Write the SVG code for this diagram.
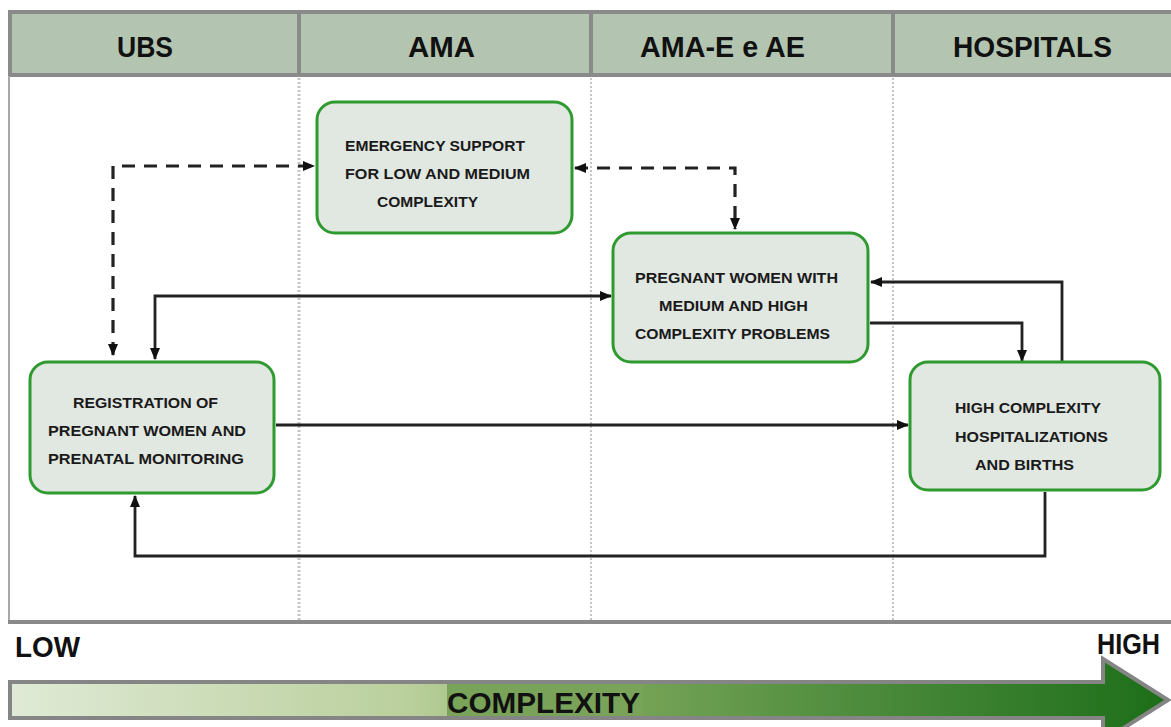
<svg xmlns="http://www.w3.org/2000/svg" width="1171" height="727" viewBox="0 0 1171 727">
<style>
.hdr{font-family:"Liberation Sans",Arial,sans-serif;font-weight:bold;font-size:29px;fill:#111}
.nt{font-family:"Liberation Sans",Arial,sans-serif;font-weight:bold;font-size:15.5px;fill:#1a1a1a}
.box{fill:#e1e7e1;stroke:#2f9a2f;stroke-width:3}
.ln{fill:none;stroke:#222;stroke-width:2.8}
.dl{fill:none;stroke:#222;stroke-width:3.2;stroke-dasharray:13 9}
.lab{font-family:"Liberation Sans",Arial,sans-serif;font-weight:bold;font-size:29px;fill:#111}
</style>
<defs>
<marker id="ah" markerUnits="userSpaceOnUse" markerWidth="12" markerHeight="10" refX="11" refY="5" orient="auto-start-reverse" viewBox="0 0 12 10">
<path d="M0,0 L12,5 L0,10 z" fill="#111"/>
</marker>
<linearGradient id="cg" x1="0" y1="0" x2="1" y2="0">
<stop offset="0" stop-color="#e0ead6"/>
<stop offset="0.35" stop-color="#b9cf9b"/>
<stop offset="0.5" stop-color="#7ea85c"/>
<stop offset="0.75" stop-color="#4a8a3a"/>
<stop offset="1" stop-color="#1d6e18"/>
</linearGradient>
</defs>
<rect x="0" y="0" width="1171" height="727" fill="#fff"/>
<g id="table">
<rect x="10" y="12" width="1165" height="63" fill="#b3c5b1" stroke="#8a8a8a" stroke-width="4"/>
<line x1="299" y1="12" x2="299" y2="75" stroke="#8a8a8a" stroke-width="4"/>
<line x1="591" y1="12" x2="591" y2="75" stroke="#8a8a8a" stroke-width="4"/>
<line x1="893" y1="12" x2="893" y2="75" stroke="#8a8a8a" stroke-width="4"/>
<line x1="9" y1="76" x2="9" y2="622" stroke="#a8a8a8" stroke-width="2"/>
<line x1="299" y1="78" x2="299" y2="620" stroke="#c4c4c4" stroke-width="3" stroke-dasharray="2 2"/>
<line x1="591" y1="78" x2="591" y2="620" stroke="#c4c4c4" stroke-width="2" stroke-dasharray="2 2"/>
<line x1="893" y1="78" x2="893" y2="620" stroke="#c4c4c4" stroke-width="2" stroke-dasharray="2 2"/>
<line x1="8" y1="622" x2="1171" y2="622" stroke="#8a8a8a" stroke-width="4"/>
<text class="hdr" x="117" y="57" textLength="56" lengthAdjust="spacingAndGlyphs">UBS</text>
<text class="hdr" x="408" y="57" textLength="67" lengthAdjust="spacingAndGlyphs">AMA</text>
<text class="hdr" x="640" y="57" textLength="165" lengthAdjust="spacingAndGlyphs">AMA-E e AE</text>
<text class="hdr" x="953" y="57" textLength="159" lengthAdjust="spacingAndGlyphs">HOSPITALS</text>
</g>
<g id="connectors">
<path class="dl" d="M113,355 L113,166 L314,166" marker-start="url(#ah)" marker-end="url(#ah)"/>
<path class="dl" d="M575,168 L735,168 L735,229" marker-start="url(#ah)" marker-end="url(#ah)"/>
<path class="ln" d="M155,359 L155,296 L611,296" marker-start="url(#ah)" marker-end="url(#ah)"/>
<path class="ln" d="M276,425 L908,425" marker-end="url(#ah)"/>
<path class="ln" d="M870,323 L1022,323 L1022,361" marker-end="url(#ah)"/>
<path class="ln" d="M1062,362 L1062,282 L871,282" marker-end="url(#ah)"/>
<path class="ln" d="M1045,492 L1045,556 L135,556 L135,496" marker-end="url(#ah)"/>
</g>
<g id="emergency">
<rect class="box" x="317" y="102" width="255" height="131" rx="18"/>
<text class="nt" x="345" y="151" textLength="180" lengthAdjust="spacingAndGlyphs">EMERGENCY SUPPORT</text>
<text class="nt" x="345" y="179" textLength="185" lengthAdjust="spacingAndGlyphs">FOR LOW AND MEDIUM</text>
<text class="nt" x="377" y="207" textLength="101" lengthAdjust="spacingAndGlyphs">COMPLEXITY</text>
</g>
<g id="pregnant">
<rect class="box" x="613" y="233" width="255" height="129" rx="18"/>
<text class="nt" x="635" y="283" textLength="203" lengthAdjust="spacingAndGlyphs">PREGNANT WOMEN WITH</text>
<text class="nt" x="659" y="311" textLength="149" lengthAdjust="spacingAndGlyphs">MEDIUM AND HIGH</text>
<text class="nt" x="635" y="339" textLength="195" lengthAdjust="spacingAndGlyphs">COMPLEXITY PROBLEMS</text>
</g>
<g id="registration">
<rect class="box" x="30" y="362" width="244" height="131" rx="18"/>
<text class="nt" x="73" y="408" textLength="145" lengthAdjust="spacingAndGlyphs">REGISTRATION OF</text>
<text class="nt" x="48" y="436" textLength="198" lengthAdjust="spacingAndGlyphs">PREGNANT WOMEN AND</text>
<text class="nt" x="48" y="464" textLength="196" lengthAdjust="spacingAndGlyphs">PRENATAL MONITORING</text>
</g>
<g id="hospital">
<rect class="box" x="910" y="362" width="250" height="128" rx="18"/>
<text class="nt" x="955" y="413" textLength="146" lengthAdjust="spacingAndGlyphs">HIGH COMPLEXITY</text>
<text class="nt" x="955" y="442" textLength="153" lengthAdjust="spacingAndGlyphs">HOSPITALIZATIONS</text>
<text class="nt" x="975" y="470" textLength="99" lengthAdjust="spacingAndGlyphs">AND BIRTHS</text>
</g>
<g id="complexity">
<path d="M10,682 L1103,682 L1103,659 L1168,700 L1103,741 L1103,718 L10,718 z" fill="url(#cg)" stroke="#858585" stroke-width="4"/>
<rect x="447" y="684" width="195" height="32" fill="#7aa35a"/>
<text class="lab" x="447" y="713" textLength="193" lengthAdjust="spacingAndGlyphs">COMPLEXITY</text>
<text class="lab" x="15" y="657" textLength="65" lengthAdjust="spacingAndGlyphs">LOW</text>
<text class="lab" x="1097" y="654" textLength="63" lengthAdjust="spacingAndGlyphs">HIGH</text>
</g>
</svg>
